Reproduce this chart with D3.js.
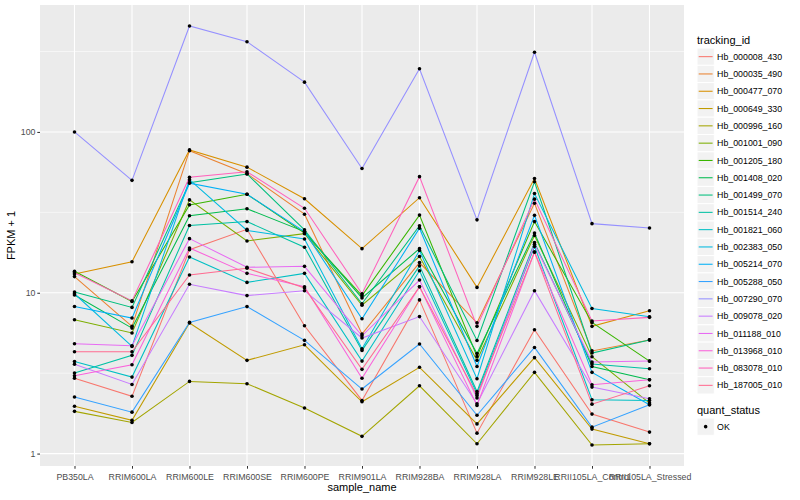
<!DOCTYPE html>
<html>
<head>
<meta charset="utf-8">
<script src="https://cdn.jsdelivr.net/npm/d3@7"></script>
<style>
  body { margin: 0; background: #fff; }
  svg { display: block; font-family: "Liberation Sans", Arial, Helvetica, sans-serif; }
</style>
</head>
<body>
<svg id="chart" width="800" height="500"></svg>
<script>
const sampleNames = ["PB350LA", "RRIM600LA", "RRIM600LE", "RRIM600SE", "RRIM600PE", "RRIM901LA",
  "RRIM928BA", "RRIM928LA", "RRIM928LE", "RRII105LA_Control", "RRII105LA_Stressed"];

const trackingIds = ["Hb_000008_430", "Hb_000035_490", "Hb_000477_070", "Hb_000649_330", "Hb_000996_160",
  "Hb_001001_090", "Hb_001205_180", "Hb_001408_020", "Hb_001499_070", "Hb_001514_240",
  "Hb_001821_060", "Hb_002383_050", "Hb_005214_070", "Hb_005288_050", "Hb_007290_070",
  "Hb_009078_020", "Hb_011188_010", "Hb_013968_010", "Hb_083078_010", "Hb_187005_010"];

const trackColors = ["#F8766D", "#EA8331", "#D89000", "#C09B00", "#A3A500", "#7CAE00", "#39B600", "#00BB4E",
  "#00BF7D", "#00C1A3", "#00BFC4", "#00BAE0", "#00B0F6", "#35A2FF", "#9590FF", "#C77CFF",
  "#E76BF3", "#FA62DB", "#FF62BC", "#FF6C91"];

// FPKM + 1, one array per tracking_id, in sampleNames order
const hb000008 = [2.94, 2.27, 18.5, 24.8, 6.24, 2.14, 9.03, 1.34, 5.89, 1.76, 1.36];
const hb000035 = [12.6, 6.18, 76.5, 55.0, 30.8, 5.54, 15.4, 6.51, 36.0, 4.35, 5.09];
const hb000477 = [13.1, 15.6, 77.3, 60.4, 38.4, 18.8, 39.0, 10.8, 51.3, 6.18, 7.73];
const hb000649 = [1.97, 1.61, 6.48, 3.80, 4.75, 2.10, 3.44, 1.53, 3.95, 1.42, 1.15];
const hb000996 = [1.83, 1.56, 2.81, 2.72, 1.92, 1.28, 2.64, 1.15, 3.20, 1.13, 1.15];
const hb001001 = [6.80, 5.62, 37.8, 21.0, 23.3, 8.36, 16.8, 3.80, 22.7, 4.00, 2.06];
const hb001205 = [13.6, 8.83, 35.2, 41.0, 23.5, 9.60, 30.4, 4.02, 27.7, 6.54, 3.76];
const hb001408 = [9.68, 6.03, 30.1, 33.3, 24.0, 9.29, 18.8, 4.19, 23.5, 3.48, 2.88];
const hb001499 = [10.1, 8.11, 48.4, 54.8, 24.6, 8.55, 26.1, 5.05, 49.0, 4.22, 5.09];
const hb001514 = [3.17, 4.08, 26.2, 27.7, 19.2, 4.38, 14.7, 2.43, 20.5, 3.61, 3.37];
const hb001821 = [3.74, 2.99, 16.7, 11.6, 13.2, 3.76, 13.7, 2.36, 19.4, 2.16, 2.14];
const hb002383 = [9.86, 4.64, 50.5, 24.4, 21.6, 4.49, 18.3, 2.92, 41.4, 7.98, 7.10];
const hb005214 = [8.22, 6.96, 48.0, 41.0, 24.0, 6.89, 25.2, 3.48, 30.3, 3.20, 2.01];
const hb005288 = [2.25, 1.81, 6.54, 8.20, 5.06, 2.52, 4.80, 1.73, 4.57, 1.46, 2.01];
const hb007290 = [100, 50, 456, 364, 204, 59.2, 247, 28.4, 313, 26.9, 25.3];
const hb009078 = [3.59, 2.69, 11.3, 9.60, 10.3, 5.23, 7.11, 2.04, 10.3, 2.59, 2.19];
const hb011188 = [4.82, 4.68, 21.7, 14.4, 14.6, 5.40, 12.0, 2.22, 20.0, 3.71, 3.76];
const hb013968 = [3.05, 3.57, 19.0, 13.2, 10.9, 2.94, 10.9, 1.99, 17.9, 2.68, 2.88];
const hb083078 = [13.3, 8.90, 52.3, 56.6, 33.5, 9.86, 52.7, 6.18, 38.2, 6.67, 7.03];
const hb187005 = [4.30, 4.30, 12.9, 14.2, 10.7, 3.34, 10.9, 2.30, 17.9, 2.03, 2.64];

const seriesValues = [hb000008, hb000035, hb000477, hb000649, hb000996, hb001001, hb001205, hb001408,
  hb001499, hb001514, hb001821, hb002383, hb005214, hb005288, hb007290, hb009078, hb011188,
  hb013968, hb083078, hb187005];

const yTicks = [1, 10, 100];
const yMinorTicks = [Math.sqrt(10), Math.sqrt(1000), Math.sqrt(100000)];
const quantStatus = ["OK"];

const panel = { left: 40, right: 684, top: 5, bottom: 466 };
const axisTextColor = "#4D4D4D";

const svg = d3.select("#chart");

const series = trackingIds.map((id, i) => ({
    id: id,
    color: trackColors[i],
    points: sampleNames.map((s, j) => ({ sample: s, value: seriesValues[i][j] }))
}));

// y domain like ggplot: log range of data, expanded 5% each side
const allValues = seriesValues.flat();
const logMin = Math.log10(d3.min(allValues));
const logMax = Math.log10(d3.max(allValues));
const logPad = (logMax - logMin) * 0.05;

const x = d3.scalePoint().domain(sampleNames).range([panel.left, panel.right]).padding(0.6);
const y = d3.scaleLog()
    .domain([Math.pow(10, logMin - logPad), Math.pow(10, logMax + logPad)])
    .range([panel.bottom, panel.top]);

// panel background and grid
svg.append("rect")
    .attr("x", panel.left).attr("y", panel.top)
    .attr("width", panel.right - panel.left).attr("height", panel.bottom - panel.top)
    .attr("fill", "#EBEBEB");

const grid = svg.append("g");
grid.selectAll(".minor").data(yMinorTicks).enter().append("line")
    .attr("x1", panel.left).attr("x2", panel.right)
    .attr("y1", d => y(d)).attr("y2", d => y(d))
    .attr("stroke", "#fff").attr("stroke-width", 0.55);
grid.selectAll(".major-y").data(yTicks).enter().append("line")
    .attr("x1", panel.left).attr("x2", panel.right)
    .attr("y1", d => y(d)).attr("y2", d => y(d))
    .attr("stroke", "#fff").attr("stroke-width", 1.1);
grid.selectAll(".major-x").data(sampleNames).enter().append("line")
    .attr("x1", d => x(d)).attr("x2", d => x(d))
    .attr("y1", panel.top).attr("y2", panel.bottom)
    .attr("stroke", "#fff").attr("stroke-width", 1.1);

// lines
const line = d3.line().x(d => x(d.sample)).y(d => y(d.value));
svg.append("g").selectAll("path").data(series).enter().append("path")
    .attr("d", d => line(d.points))
    .attr("fill", "none")
    .attr("stroke", d => d.color)
    .attr("stroke-width", 1.05);

// points
svg.append("g").selectAll("g").data(series).enter().append("g")
    .selectAll("circle").data(d => d.points).enter().append("circle")
    .attr("cx", d => x(d.sample)).attr("cy", d => y(d.value))
    .attr("r", 1.8).attr("fill", "#000");

// axes
const xAxis = svg.append("g")
    .attr("transform", `translate(0,${panel.bottom})`)
    .call(d3.axisBottom(x).tickSize(2.7).tickSizeOuter(0));
const yAxis = svg.append("g")
    .attr("transform", `translate(${panel.left},0)`)
    .call(d3.axisLeft(y).tickValues(yTicks).tickFormat(d3.format("d")).tickSize(2.7).tickSizeOuter(0));

[xAxis, yAxis].forEach(a => {
    a.select(".domain").remove();
    a.selectAll(".tick line").attr("stroke", "#333").attr("stroke-width", 1.05);
    a.selectAll(".tick text").attr("fill", axisTextColor).attr("font-size", 8.8)
        .attr("font-family", "Liberation Sans, Arial, sans-serif");
});
xAxis.selectAll(".tick text").attr("dy", 0).attr("y", 13.5);
yAxis.selectAll(".tick text").attr("x", -4.5).attr("dy", "0.34em");

// axis titles
svg.append("text")
    .attr("x", (panel.left + panel.right) / 2).attr("y", 491)
    .attr("text-anchor", "middle").attr("font-size", 11).attr("fill", "#000")
    .text("sample_name");
svg.append("text")
    .attr("transform", `translate(15,${(panel.top + panel.bottom) / 2}) rotate(-90)`)
    .attr("text-anchor", "middle").attr("font-size", 11).attr("fill", "#000")
    .text("FPKM + 1");

// legend: tracking_id
const legendX = 697;
const keySize = 17.3;
const legendTop = 48;
const legend = svg.append("g");
legend.append("text")
    .attr("x", legendX).attr("y", 44)
    .attr("font-size", 11).attr("fill", "#000")
    .text("tracking_id");

const items = legend.selectAll(".item").data(series).enter().append("g")
    .attr("transform", (d, i) => `translate(${legendX},${legendTop + i * keySize})`);
items.append("rect")
    .attr("width", keySize).attr("height", keySize)
    .attr("fill", "#F2F2F2").attr("stroke", "#fff").attr("stroke-width", 1);
items.append("line")
    .attr("x1", 1.7).attr("x2", keySize - 1.7)
    .attr("y1", keySize / 2).attr("y2", keySize / 2)
    .attr("stroke", d => d.color).attr("stroke-width", 1.05);
items.append("text")
    .attr("x", keySize + 2.8).attr("y", keySize / 2).attr("dy", "0.35em")
    .attr("font-size", 8.8).attr("fill", "#000")
    .text(d => d.id);

// legend: quant_status
const qsTop = 414;
legend.append("text")
    .attr("x", legendX).attr("y", qsTop)
    .attr("font-size", 11).attr("fill", "#000")
    .text("quant_status");
const qsItems = legend.selectAll(".qs").data(quantStatus).enter().append("g")
    .attr("transform", (d, i) => `translate(${legendX},${qsTop + 4 + i * keySize})`);
qsItems.append("rect")
    .attr("width", keySize).attr("height", keySize)
    .attr("fill", "#F2F2F2").attr("stroke", "#fff");
qsItems.append("circle")
    .attr("cx", keySize / 2).attr("cy", keySize / 2).attr("r", 1.8).attr("fill", "#000");
qsItems.append("text")
    .attr("x", keySize + 2.8).attr("y", keySize / 2).attr("dy", "0.35em")
    .attr("font-size", 8.8).attr("fill", "#000")
    .text(d => d);
</script>
</body>
</html>
